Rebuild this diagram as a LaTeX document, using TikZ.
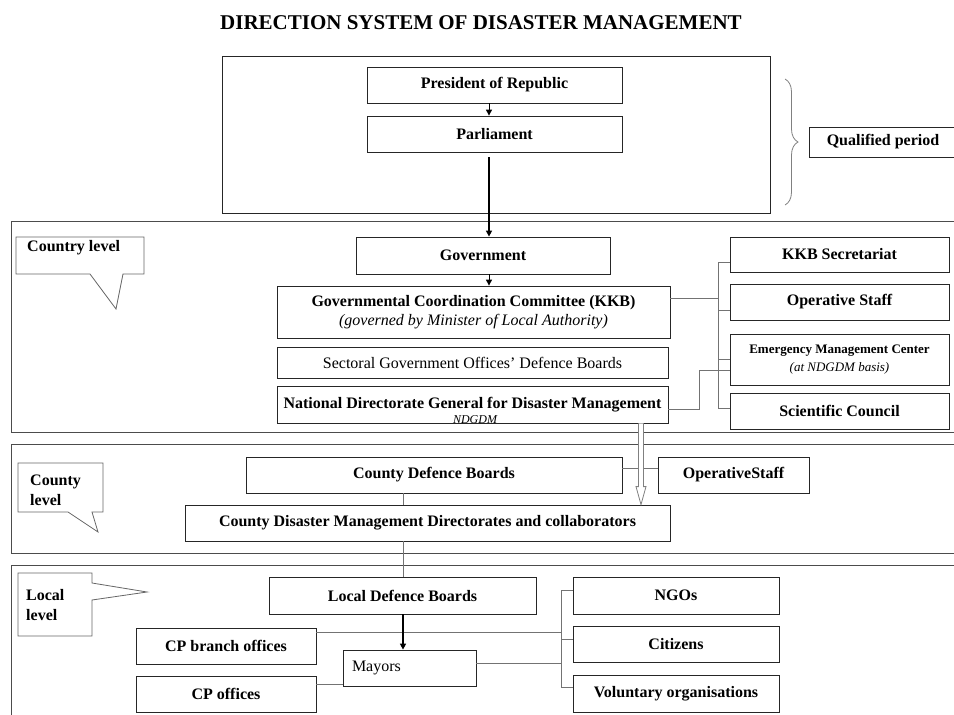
\documentclass[tikz,border=0pt]{standalone}
\usepackage{fontspec}
\setmainfont{Liberation Serif}
\usetikzlibrary{arrows.meta,calc,decorations.pathreplacing}
\tikzset{
	box/.style={draw=black!85, line width=0.8pt, font=\bfseries\fontsize{16}{19}\selectfont, inner sep=0pt, align=center},
	band/.style={draw=black!70, line width=1pt},
	conn/.style={draw=black!55, line width=0.9pt},
	arr/.style={draw=black, line width=1pt, -{Triangle[length=6pt,width=6pt]}},
	dbl/.style={draw=black!50, fill=white, line width=0.8pt},
	callout/.style={draw=black!60, line width=0.8pt, fill=white},
	lbl/.style={font=\bfseries\fontsize{16}{20}\selectfont, align=left, inner sep=0pt},
	brc/.style={draw=black!50, line width=0.8pt, decorate, decoration={brace, amplitude=13pt}},
}

\begin{document}
\begin{tikzpicture}[x=1pt, y=-1pt]
	%%%%% START %%%%%
	\useasboundingbox (0,0) rectangle (954,715);
	\clip (0,0) rectangle (954,715);
	
	\node[font=\bfseries\fontsize{21}{24}\selectfont, anchor=base] (title) at (481,29) {DIRECTION SYSTEM OF DISASTER MANAGEMENT};
	
	% levels
	\draw[band] (11,221) rectangle (965,432);
	\draw[band] (11,444) rectangle (965,553);
	\draw[band] (11,565) rectangle (965,725);
	
	% qualified period
	\draw[line width=0.9pt, draw=black!85] (222,56) rectangle (770,213);
	\node[box, minimum width=255pt, minimum height=36pt] (pres) at (494.5,85) {President of  Republic};
	\node[box, minimum width=255pt, minimum height=36pt] (parl) at (494.5,134) {Parliament};
	\draw[brc] (785,79) -- (785,205);
	\node[box, minimum width=148pt, minimum height=30pt] (qual) at (883,142) {Qualified period};
	
	% country level
	\node[box, minimum width=254pt, minimum height=37pt] (gov) at (483,255.5) {Government};
	\node[box, minimum width=393pt, minimum height=52pt] (kkb) at (473.5,312) {Governmental Coordination Committee (KKB)\\ {\mdseries\itshape (governed by Minister of Local Authority)}};
	\node[box, minimum width=391pt, minimum height=31pt, font=\fontsize{16}{19}\selectfont] (sect) at (472.5,362.5) {Sectoral Government Offices’ Defence Boards};
	\node[box, minimum width=391pt, minimum height=37pt] (ndgdm) at (472.5,404.5) {\raisebox{3pt}{National Directorate General for Disaster Management}};
	\node[font=\itshape\fontsize{12}{14}\selectfont, inner sep=0pt] (ndtag) at (475,420) {NDGDM};
	\node[box, minimum width=219pt, minimum height=35pt] (sec) at (839.5,254.5) {KKB Secretariat};
	\node[box, minimum width=219pt, minimum height=36pt] (ops) at (839.5,302) {Operative Staff};
	\node[box, minimum width=219pt, minimum height=51pt, font=\bfseries\fontsize{13}{18}\selectfont] (emc) at (839.5,359.5) {Emergency Management Center\\ {\mdseries\itshape (at NDGDM basis)}};
	\node[box, minimum width=219pt, minimum height=36pt] (sci) at (839.5,411) {Scientific Council};
	
	\draw[callout] (16,237) -- (144,237) -- (144,274) -- (123,274) -- (116,309) -- (90,274) -- (16,274) -- cycle;
	\node[lbl, anchor=base west] (ctry) at (27,251) {Country level};
	
	\coordinate (spine) at (489,0);
	\draw[arr] (pres.south -| spine) -- (parl.north -| spine);
	\draw[arr, line width=1.5pt] ([yshift=-5pt]parl.south -| spine) -- (gov.north -| spine);
	\draw[arr] (gov.south -| spine) -- (kkb.north -| spine);
	
	\coordinate (kb) at (718,298);
	\draw[conn] (kb -| kkb.east) -- (kb);
	\draw[conn] (718,262) -- (718,408);
	\foreach \n/\y in {sec/262, ops/310, emc/359, sci/408}{
		\coordinate (t\n) at (718,\y);
		\draw[conn] (t\n) -- (t\n -| \n.west);
	}
	\coordinate (ek) at (699,370);
	\draw[conn] ([yshift=-4.5pt]ndgdm.east) -| (ek) -- (ek -| emc.west);
	
	% county level
	\node[box, minimum width=376pt, minimum height=36pt] (cdb) at (434,475) {County Defence Boards};
	\node[box, minimum width=485pt, minimum height=36pt] (cdmd) at (427.5,523) {County Disaster Management  Directorates  and collaborators};
	\node[box, minimum width=151pt, minimum height=36pt] (opst) at (733.5,475) {OperativeStaff};
	
	\draw[callout] (18,463) -- (103,463) -- (103,512) -- (92,512) -- (98,532) -- (68,512) -- (18,512) -- cycle;
	\node[lbl, anchor=base west] (cnty) at (30,505) {County\\level};
	
	\coordinate (lcol) at (403,0);
	\draw[conn] ([yshift=7pt]cdb.east) -- ([yshift=7pt]cdb.east -| opst.west);
	\draw[conn] (cdb.south -| lcol) -- (cdmd.north -| lcol);
	
	\coordinate (dcol) at (641,0);
	\coordinate (dA) at (ndgdm.south -| dcol);
	\coordinate (dB) at (cdmd.north -| dcol);
	\filldraw[dbl] ($(dA)+(-2.5,0)$) -- ($(dB)+(-2.5,-18)$) -- ($(dB)+(-5,-18)$) -- (dB) -- ($(dB)+(5,-18)$) -- ($(dB)+(2.5,-18)$) -- ($(dA)+(2.5,0)$);
	
	% local level
	\node[box, minimum width=267pt, minimum height=37pt] (ldb) at (402.5,595.5) {Local Defence Boards};
	\node[box, minimum width=180pt, minimum height=36pt] (cpb) at (226,646) {CP branch  offices};
	\node[box, minimum width=180pt, minimum height=36pt] (cpo) at (226,694) {CP offices};
	\node[box, minimum width=133pt, minimum height=36pt, text width=115pt, align=left, font=\fontsize{16}{19}\selectfont] (may) at (409.5,668) {Mayors};
	\node[box, minimum width=206pt, minimum height=37pt] (ngo) at (676,595.5) {NGOs};
	\node[box, minimum width=206pt, minimum height=36pt] (cit) at (676,644) {Citizens};
	\node[box, minimum width=206pt, minimum height=37pt] (vol) at (676,693.5) {Voluntary organisations};
	
	\draw[conn] (cdmd.south -| lcol) -- (ldb.north -| lcol);
	
	\draw[callout] (18,573) -- (92,573) -- (92,583) -- (147,592) -- (92,600) -- (92,636) -- (18,636) -- cycle;
	\node[lbl, anchor=base west] (locl) at (26,620) {Local\\level};
	
	\coordinate (nb) at (561,590);
	\coordinate (cb) at (561,639);
	\coordinate (vb) at (561,687);
	\draw[conn] (nb) -- (vb);
	\draw[conn] (nb) -- (nb -| ngo.west);
	\draw[conn] (cb) -- (cb -| cit.west);
	\draw[conn] (vb) -- (vb -| vol.west);
	\draw[conn] ([yshift=14pt]cpb.east) -- ([yshift=14pt]cpb.east -| nb);
	\draw[conn] ([yshift=5pt]may.east) -- ([yshift=5pt]may.east -| nb);
	\draw[conn] ([yshift=10pt]cpo.east) -- ([yshift=10pt]cpo.east -| may.west);
	\draw[arr, line width=1.5pt] (ldb.south -| lcol) -- (may.north -| lcol);
	
	%%%%% END %%%%%
\end{tikzpicture}
\end{document}
